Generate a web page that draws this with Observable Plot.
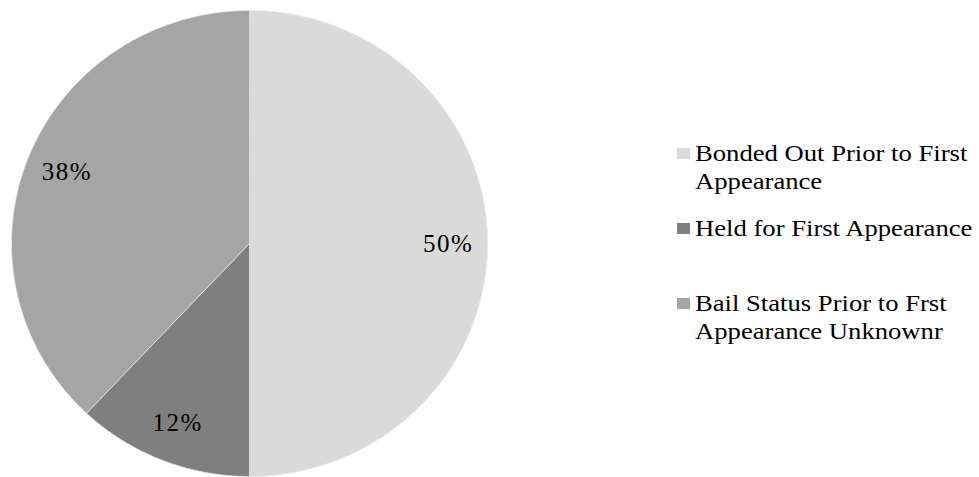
<!DOCTYPE html>
<html>
<head>
<meta charset="utf-8">
<script src="https://cdn.jsdelivr.net/npm/d3@7"></script>
<script src="https://cdn.jsdelivr.net/npm/@observablehq/plot@0.6"></script>
<style>
  html, body { margin: 0; padding: 0; background: #fff; }
  #wrap { position: relative; width: 979px; height: 477px; overflow: hidden; }
  #wrap svg text { letter-spacing: 1.5px; }
  #legend { position: absolute; left: 677px; top: 139px; font-family: "Liberation Serif", "Times New Roman", serif; font-size: 24px; color: #000; }
  .item { position: relative; height: 75px; line-height: 28px; white-space: nowrap; }
  .sw { position: absolute; left: 0px; top: 9px; width: 13px; height: 11px; }
  .txt { position: absolute; left: 18px; top: 0; transform: scaleX(1.11); transform-origin: 0 0; }
</style>
</head>
<body>
<div id="wrap"></div>
<script>
const categories = [
  "Bonded Out Prior to First Appearance",
  "Held for First Appearance",
  "Bail Status Prior to Frst Appearance Unknownr"
];
const values = [50, 12, 38];
const colors = ["#d9dad9", "#7f7f7f", "#a5a5a5"];
const legendLines = [
  ["Bonded Out Prior to First", "Appearance"],
  ["Held for First Appearance"],
  ["Bail Status Prior to Frst", "Appearance Unknownr"]
];

const total = d3.sum(values);
const toRad = p => (p / total) * 2 * Math.PI;

// slice polygons (clockwise from 12 o'clock) in unit-circle data space
const pts = [];
const labels = [];
let acc = 0;
categories.forEach((c, i) => {
  const a0 = toRad(acc), a1 = toRad(acc + values[i]);
  pts.push({cat: c, x: 0, y: 0});
  const n = Math.max(2, Math.ceil((a1 - a0) / (Math.PI / 360)));
  for (let k = 0; k <= n; k++) {
    const a = a0 + (a1 - a0) * k / n;
    pts.push({cat: c, x: Math.sin(a), y: Math.cos(a)});
  }
  const am = (a0 + a1) / 2;
  labels.push({cat: c, x: 0.83 * Math.sin(am), y: 0.83 * Math.cos(am), text: values[i] + "%"});
  acc += values[i];
});

const chart = Plot.plot({
  width: 979,
  height: 477,
  margin: 0,
  style: {background: "#fff", overflow: "visible"},
  x: {domain: [-1, 1], range: [11, 487], axis: null},
  y: {domain: [-1, 1], range: [476, 10], axis: null},
  color: {domain: categories, range: colors},
  marks: [
    Plot.line(pts, {x: "x", y: "y", z: "cat", fill: "cat", stroke: "#e8e8e8", strokeWidth: 0.8, curve: "linear-closed"}),
    Plot.text(labels, {x: "x", y: "y", text: "text", dx: 1, fontSize: 25, fontFamily: "Liberation Serif, Times New Roman, serif", fill: "#000"})
  ]
});

const wrap = document.getElementById("wrap");
wrap.appendChild(chart);

const legend = document.createElement("div");
legend.id = "legend";
categories.forEach((c, i) => {
  const it = document.createElement("div");
  it.className = "item";
  const sw = document.createElement("span");
  sw.className = "sw";
  sw.style.background = colors[i];
  it.appendChild(sw);
  const tx = document.createElement("span");
  tx.className = "txt";
  legendLines[i].forEach((ln, j) => {
    if (j) tx.appendChild(document.createElement("br"));
    tx.appendChild(document.createTextNode(ln));
  });
  it.appendChild(tx);
  legend.appendChild(it);
});
wrap.appendChild(legend);
</script>
</body>
</html>
